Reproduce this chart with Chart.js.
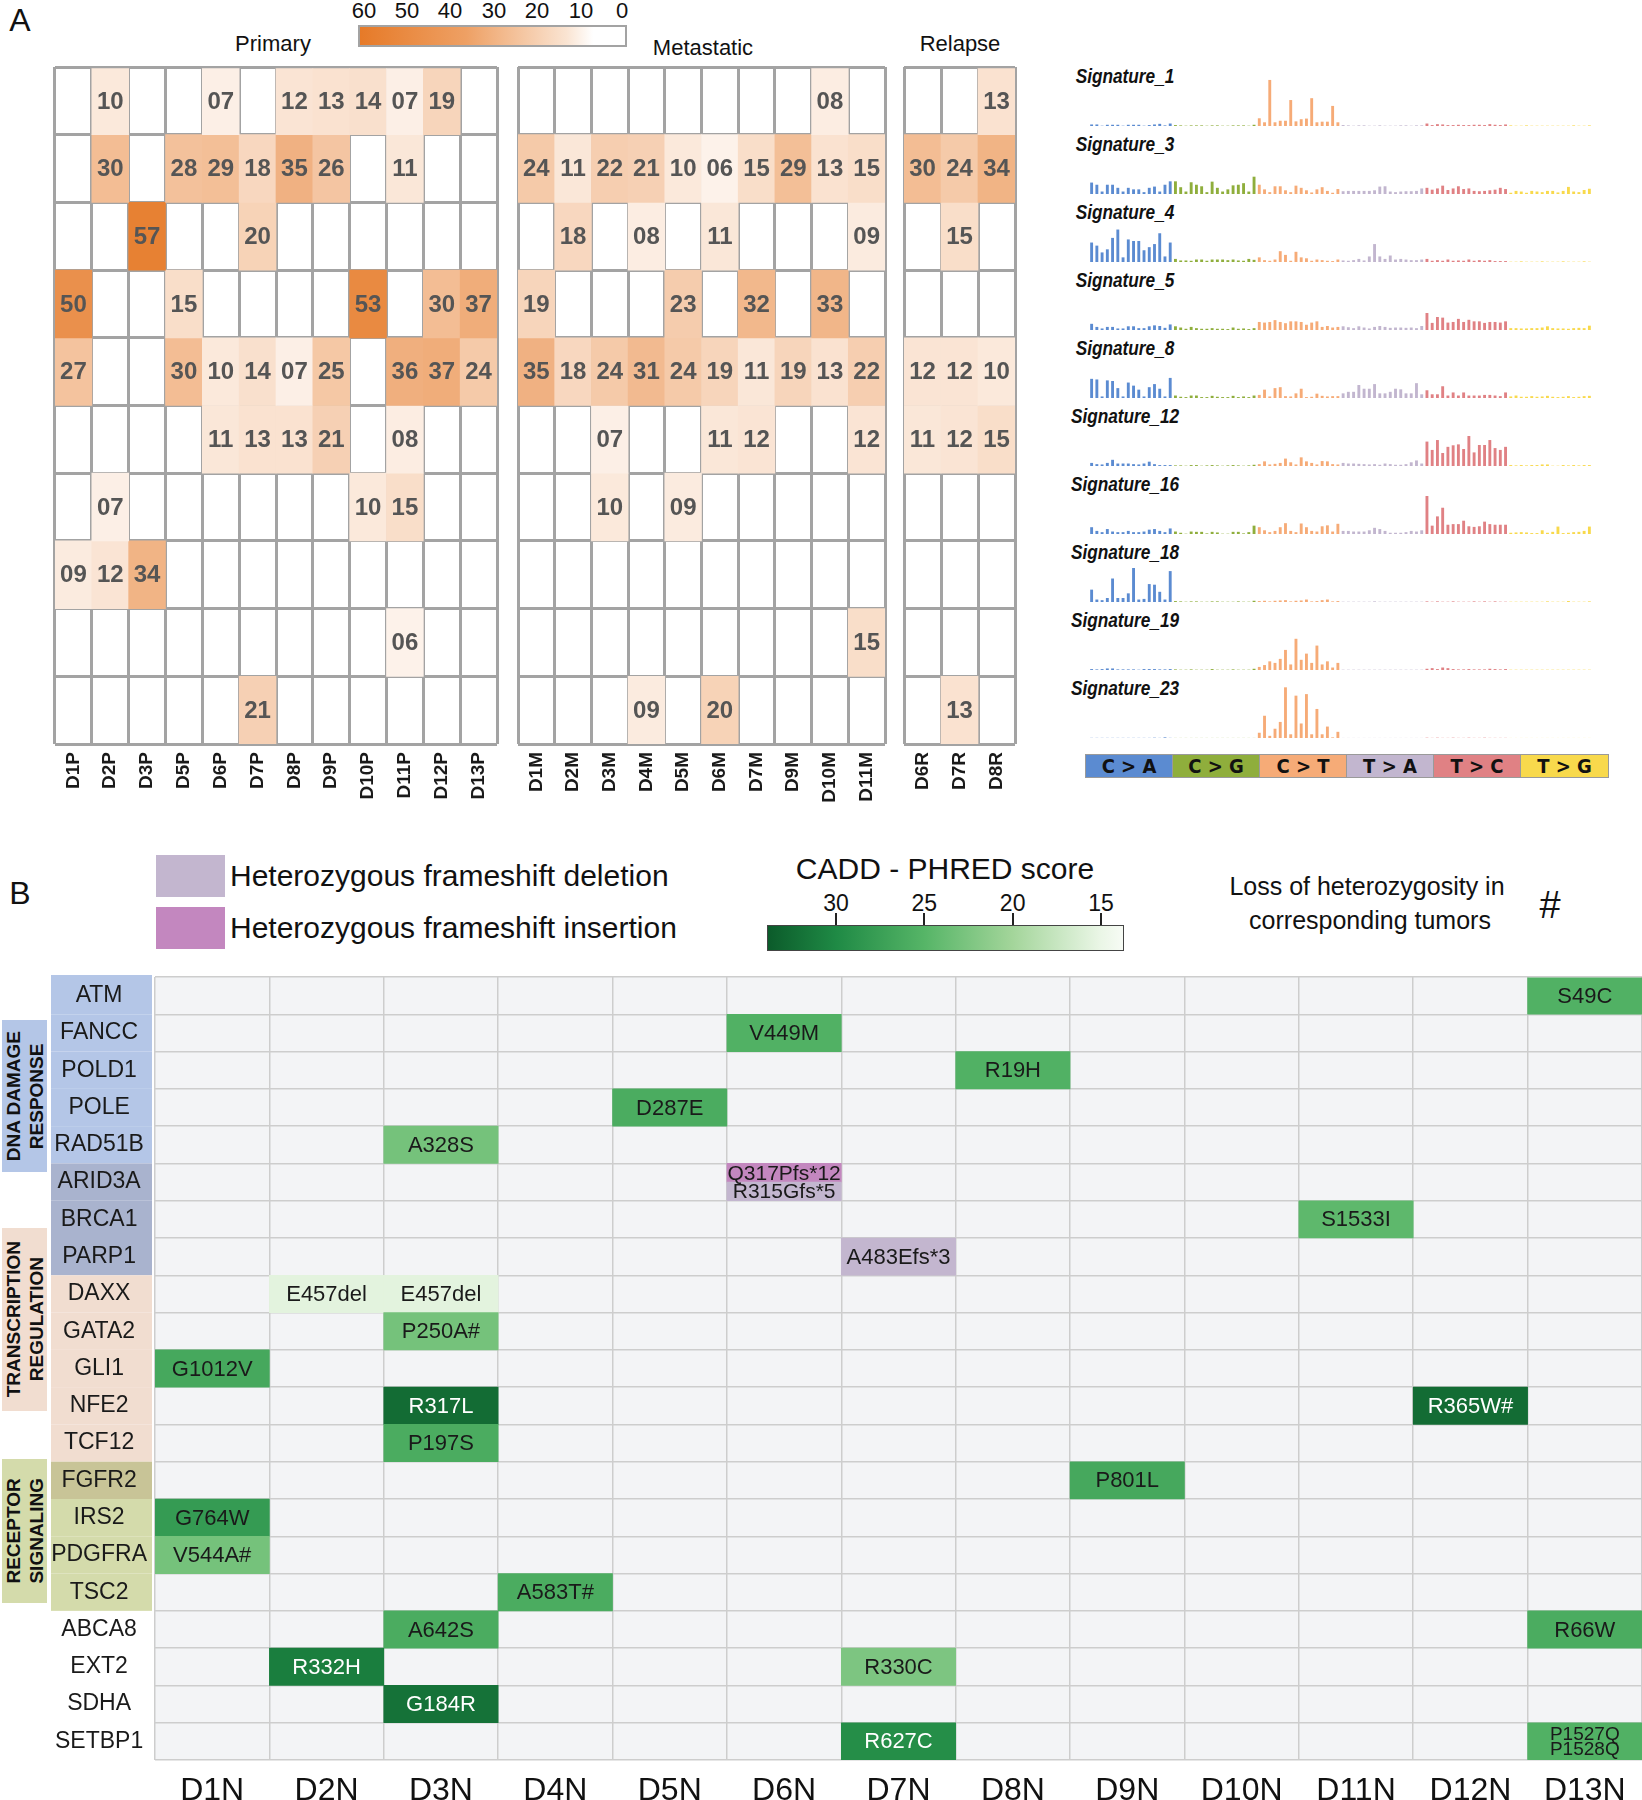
<!DOCTYPE html>
<html>
<head>
<meta charset="utf-8">
<script src="https://cdn.jsdelivr.net/npm/chart.js"></script>
<style>
  body { margin: 0; background: #fff; font-family: 'Liberation Sans', Arial, Helvetica, sans-serif; }
  #page { position: relative; width: 1642px; height: 1800px; overflow: hidden; }
  canvas { position: absolute; }
  .t { position: absolute; white-space: nowrap; color: #111; }
  .c { transform: translate(-50%, -50%); }
  .m { transform: translateY(-50%); }
  .grp { position: absolute; left: 2px; width: 45px; display: flex; align-items: center; justify-content: center; }
  .grp span { writing-mode: vertical-rl; transform: rotate(180deg); font-weight: bold; font-size: 19px; line-height: 23px; text-align: center; color: #111; }
  .cat { position: absolute; top: 754px; height: 24px; box-sizing: border-box; border: 1px solid #9a9a9a; display: flex; align-items: center; justify-content: center;
         font: bold 20px 'Liberation Sans Narrow', 'DejaVu Sans Condensed', Arial, sans-serif; color: #111; white-space: pre; }
</style>
</head>
<body>
<div id="page">
  <!-- panel A headers -->
  <div class="t c" style="left:20px; top:20px; font-size:32px;">A</div>
  <div class="t c" style="left:364px; top:11px; font-size:22px;">60</div>
  <div class="t c" style="left:407px; top:11px; font-size:22px;">50</div>
  <div class="t c" style="left:450px; top:11px; font-size:22px;">40</div>
  <div class="t c" style="left:494px; top:11px; font-size:22px;">30</div>
  <div class="t c" style="left:537px; top:11px; font-size:22px;">20</div>
  <div class="t c" style="left:581px; top:11px; font-size:22px;">10</div>
  <div class="t c" style="left:622px; top:11px; font-size:22px;">0</div>
  <div style="position:absolute; left:358px; top:25px; width:265px; height:18px; border:2px solid #a3a3a3; background:linear-gradient(to right, rgb(230,122,40), rgb(238,160,100) 40%, rgb(250,228,210) 78%, #fff 88%, #fff);"></div>
  <div class="t c" style="left:273px; top:44px; font-size:22px;">Primary</div>
  <div class="t c" style="left:703px; top:48px; font-size:22px;">Metastatic</div>
  <div class="t c" style="left:960px; top:44px; font-size:22px;">Relapse</div>

  <!-- mutation type strip -->
  <div class="cat" style="left:1085px; width:88px; background:#5b8bd1;">C &gt; A</div>
  <div class="cat" style="left:1172px; width:88px; background:#8fae3c;">C &gt; G</div>
  <div class="cat" style="left:1259px; width:88px; background:#f6ab77;">C &gt; T</div>
  <div class="cat" style="left:1346px; width:88px; background:#c2b6cf;">T &gt; A</div>
  <div class="cat" style="left:1433px; width:88px; background:#e08184;">T &gt; C</div>
  <div class="cat" style="left:1520px; width:89px; background:#f8d94c;">T &gt; G</div>

  <!-- panel B legends -->
  <div class="t c" style="left:20px; top:893px; font-size:32px;">B</div>
  <div style="position:absolute; left:156px; top:855px; width:69px; height:42px; background:#c3b6cf;"></div>
  <div style="position:absolute; left:156px; top:907px; width:69px; height:42px; background:#c387bf;"></div>
  <div class="t m" style="left:230px; top:876px; font-size:30px;">Heterozygous frameshift deletion</div>
  <div class="t m" style="left:230px; top:928px; font-size:30px;">Heterozygous frameshift insertion</div>
  <div class="t c" style="left:945px; top:869px; font-size:30px;">CADD - PHRED score</div>
  <div id="caddBar" style="position:absolute; left:767px; top:925px; width:355px; height:24px; border:1px solid #444;"></div>
  <div class="t c" style="left:1367px; top:886px; font-size:25px;">Loss of heterozygosity in</div>
  <div class="t c" style="left:1370px; top:920px; font-size:25px;">corresponding tumors</div>
  <div class="t c" style="left:1550px; top:905px; font-size:38px;">#</div>

  <div class="grp" style="top:1020px; height:152px; background:#b4c6e7;"><span>DNA DAMAGE<br>RESPONSE</span></div>
  <div class="grp" style="top:1228px; height:183px; background:#f1ddd0;"><span>TRANSCRIPTION<br>REGULATION</span></div>
  <div class="grp" style="top:1459px; height:144px; background:#d4dbab;"><span>RECEPTOR<br>SIGNALING</span></div>
</div>

<script>
// ---------- panel A: signature contributions (%) ----------
const primarySamples = ['D1P', 'D2P', 'D3P', 'D5P', 'D6P', 'D7P', 'D8P', 'D9P', 'D10P', 'D11P', 'D12P', 'D13P'];
const metaSamples = ['D1M', 'D2M', 'D3M', 'D4M', 'D5M', 'D6M', 'D7M', 'D9M', 'D10M', 'D11M'];
const relapseSamples = ['D6R', 'D7R', 'D8R'];
const signatures = ['Signature_1', 'Signature_3', 'Signature_4', 'Signature_5', 'Signature_8',
  'Signature_12', 'Signature_16', 'Signature_18', 'Signature_19', 'Signature_23'];

// one row per signature, 0 = not found
const primaryContrib = [
  [0, 10, 0, 0, 7, 0, 12, 13, 14, 7, 19, 0],
  [0, 30, 0, 28, 29, 18, 35, 26, 0, 11, 0, 0],
  [0, 0, 57, 0, 0, 20, 0, 0, 0, 0, 0, 0],
  [50, 0, 0, 15, 0, 0, 0, 0, 53, 0, 30, 37],
  [27, 0, 0, 30, 10, 14, 7, 25, 0, 36, 37, 24],
  [0, 0, 0, 0, 11, 13, 13, 21, 0, 8, 0, 0],
  [0, 7, 0, 0, 0, 0, 0, 0, 10, 15, 0, 0],
  [9, 12, 34, 0, 0, 0, 0, 0, 0, 0, 0, 0],
  [0, 0, 0, 0, 0, 0, 0, 0, 0, 6, 0, 0],
  [0, 0, 0, 0, 0, 21, 0, 0, 0, 0, 0, 0]
];
const metaContrib = [
  [0, 0, 0, 0, 0, 0, 0, 0, 8, 0],
  [24, 11, 22, 21, 10, 6, 15, 29, 13, 15],
  [0, 18, 0, 8, 0, 11, 0, 0, 0, 9],
  [19, 0, 0, 0, 23, 0, 32, 0, 33, 0],
  [35, 18, 24, 31, 24, 19, 11, 19, 13, 22],
  [0, 0, 7, 0, 0, 11, 12, 0, 0, 12],
  [0, 0, 10, 0, 9, 0, 0, 0, 0, 0],
  [0, 0, 0, 0, 0, 0, 0, 0, 0, 0],
  [0, 0, 0, 0, 0, 0, 0, 0, 0, 15],
  [0, 0, 0, 9, 0, 20, 0, 0, 0, 0]
];
const relapseContrib = [
  [0, 0, 13],
  [30, 24, 34],
  [0, 15, 0],
  [0, 0, 0],
  [12, 12, 10],
  [11, 12, 15],
  [0, 0, 0],
  [0, 0, 0],
  [0, 0, 0],
  [0, 13, 0]
];

// ---------- signature spectra (% of mutations, 96 channels) ----------
const mutTypes = ['C>A', 'C>G', 'C>T', 'T>A', 'T>C', 'T>G'];
const mutColors = ['#5b8bd1', '#8fae3c', '#f6ab77', '#c2b6cf', '#e08184', '#f8d94c'];
const flanks = ['A', 'C', 'G', 'T'];

const sig1Spectrum = [
  0.5, 0.5, 0.1, 0.4, 0.4, 0.4, 0.1, 0.4, 0.4, 0.4, 0.1, 0.3, 0.5, 0.7, 0.2, 0.8,
  0.3, 0.2, 0.1, 0.2, 0.2, 0.2, 0.1, 0.2, 0.2, 0.1, 0.1, 0.2, 0.2, 0.2, 0.1, 0.4,
  2.5, 1.2, 14.9, 1.2, 1.7, 1.7, 8.4, 1.5, 2.2, 2.4, 9.0, 1.2, 1.4, 1.4, 6.5, 1.2,
  0.3, 0.2, 0.1, 0.2, 0.2, 0.1, 0.1, 0.2, 0.1, 0.1, 0.1, 0.2, 0.2, 0.1, 0.2, 0.2,
  0.8, 0.3, 0.6, 0.5, 0.3, 0.3, 0.4, 0.3, 0.3, 0.4, 0.4, 0.3, 0.6, 0.4, 0.3, 0.5,
  0.2, 0.1, 0.1, 0.2, 0.1, 0.1, 0.1, 0.1, 0.1, 0.1, 0.1, 0.1, 0.2, 0.1, 0.1, 0.2
];
const sig3Spectrum = [
  3.7, 3.0, 0.8, 3.0, 3.0, 2.0, 0.8, 2.0, 1.5, 1.5, 0.6, 2.0, 2.4, 0.8, 3.0, 4.1,
  4.1, 2.2, 0.8, 3.8, 3.0, 2.5, 0.6, 4.0, 2.0, 0.8, 1.5, 2.8, 3.0, 3.5, 0.8, 5.6,
  3.0, 1.5, 0.6, 2.5, 2.5, 1.2, 0.6, 2.7, 2.0, 1.2, 0.5, 1.5, 2.2, 1.0, 0.4, 1.6,
  0.9, 1.0, 1.0, 1.0, 1.0, 1.0, 1.2, 2.4, 2.5, 0.8, 0.6, 0.8, 0.9, 0.9, 1.0, 1.8,
  2.0, 1.4, 1.8, 2.7, 1.3, 1.8, 2.5, 1.6, 1.8, 1.0, 0.9, 1.0, 1.2, 1.4, 2.0, 1.6,
  0.4, 1.0, 0.8, 0.4, 1.0, 0.8, 0.6, 1.0, 1.0, 0.5, 1.0, 2.3, 0.8, 0.6, 1.3, 1.7
];
const sig4Spectrum = [
  6.3, 5.3, 3.1, 4.1, 7.8, 10.5, 1.5, 7.3, 6.8, 6.8, 3.8, 4.8, 5.8, 9.3, 1.8, 6.3,
  1.0, 0.5, 0.5, 0.4, 0.8, 0.8, 0.4, 0.8, 0.8, 0.8, 0.6, 0.8, 0.5, 0.4, 1.0, 0.7,
  1.5, 0.6, 0.4, 0.8, 3.5, 2.3, 0.4, 3.3, 1.5, 1.2, 0.4, 0.8, 0.6, 0.4, 0.3, 0.8,
  0.5, 0.4, 0.6, 1.0, 0.5, 1.8, 5.8, 1.8, 1.0, 2.1, 0.8, 1.0, 0.8, 0.6, 0.6, 0.8,
  1.0, 0.4, 0.6, 0.4, 0.8, 0.4, 0.5, 0.4, 0.8, 0.4, 0.6, 0.4, 0.6, 0.3, 0.3, 0.3,
  0.1, 0.1, 0.2, 0.1, 0.1, 0.1, 0.2, 0.1, 0.1, 0.1, 0.2, 0.1, 0.1, 0.1, 0.2, 0.1
];
const sig5Spectrum = [
  2.0, 1.0, 0.5, 1.0, 1.0, 0.5, 0.5, 1.2, 1.2, 0.6, 0.6, 1.2, 1.5, 1.3, 0.7, 1.8,
  1.2, 0.8, 0.4, 1.0, 0.6, 0.4, 0.4, 0.6, 0.4, 0.4, 0.3, 0.8, 0.4, 0.5, 0.3, 0.6,
  2.6, 2.4, 2.6, 3.2, 2.6, 2.2, 2.8, 2.8, 2.6, 1.7, 2.4, 2.8, 1.0, 1.3, 0.8, 1.0,
  1.2, 0.9, 0.6, 1.2, 0.8, 0.5, 1.0, 1.3, 1.0, 0.7, 0.8, 0.8, 0.7, 0.8, 0.6, 1.3,
  5.5, 2.3, 4.2, 4.0, 2.4, 2.6, 3.6, 2.6, 3.3, 2.8, 2.8, 2.3, 2.6, 2.6, 2.4, 2.8,
  0.6, 0.6, 0.5, 0.5, 0.6, 0.6, 0.8, 1.2, 0.6, 0.5, 0.5, 0.4, 0.6, 0.7, 0.6, 1.4
];
const sig8Spectrum = [
  6.2, 6.0, 0.5, 5.7, 5.5, 3.2, 0.5, 5.0, 4.0, 2.7, 0.5, 3.5, 4.5, 3.0, 0.5, 6.5,
  0.8, 0.4, 0.3, 0.8, 0.8, 0.3, 0.3, 0.7, 0.4, 0.3, 0.3, 0.7, 0.3, 0.5, 0.3, 0.8,
  1.0, 2.7, 0.5, 3.2, 3.5, 0.6, 0.5, 1.5, 3.0, 0.3, 0.4, 1.4, 0.7, 0.5, 0.6, 0.6,
  1.5, 2.0, 2.0, 4.2, 3.0, 3.0, 4.5, 1.5, 1.5, 2.0, 3.0, 2.8, 1.5, 1.5, 4.8, 1.2,
  2.5, 1.2, 1.2, 3.8, 0.8, 1.8, 0.8, 1.8, 0.8, 0.8, 0.8, 1.0, 1.0, 0.8, 0.6, 1.8,
  0.5, 0.8, 0.4, 0.4, 0.6, 0.4, 0.5, 0.7, 0.4, 0.3, 0.4, 0.6, 0.3, 0.4, 0.6, 0.7
];
const sig12Spectrum = [
  1.0, 0.6, 0.5, 1.0, 2.0, 0.8, 0.8, 0.8, 0.6, 0.5, 0.8, 1.4, 0.6, 0.3, 0.3, 0.3,
  0.2, 0.2, 0.1, 0.3, 0.3, 0.1, 0.2, 0.3, 0.2, 0.1, 0.2, 0.3, 0.2, 0.1, 0.2, 0.4,
  0.6, 1.5, 0.5, 0.7, 1.0, 2.4, 1.2, 0.5, 2.8, 1.5, 1.0, 0.5, 1.6, 1.5, 0.6, 0.5,
  1.0, 0.8, 0.8, 0.7, 0.6, 0.5, 0.6, 0.4, 0.8, 0.6, 0.4, 0.4, 0.6, 1.2, 1.8, 0.8,
  7.9, 5.2, 8.4, 4.2, 6.2, 6.7, 7.0, 5.5, 9.7, 4.4, 6.8, 6.8, 8.4, 5.8, 5.2, 6.2,
  0.3, 0.2, 0.3, 0.2, 0.3, 0.3, 0.5, 0.5, 0.1, 0.1, 0.3, 0.2, 0.3, 0.2, 0.3, 0.3
];
const sig16Spectrum = [
  2.2, 1.0, 0.6, 1.6, 0.8, 0.6, 0.6, 1.0, 0.6, 0.6, 0.8, 1.4, 1.6, 1.0, 0.6, 1.8,
  0.8, 0.4, 0.1, 0.8, 0.7, 0.7, 0.2, 0.7, 0.5, 0.1, 0.1, 0.7, 0.7, 0.2, 0.6, 2.7,
  2.2, 1.2, 0.6, 1.0, 2.2, 3.5, 1.0, 0.6, 3.4, 2.2, 1.0, 0.8, 2.5, 2.8, 0.8, 3.3,
  1.0, 1.0, 0.8, 0.8, 0.8, 1.2, 2.0, 1.6, 1.0, 0.4, 0.4, 0.4, 0.6, 1.0, 0.8, 1.2,
  12.3, 2.7, 5.7, 8.5, 3.0, 3.2, 3.2, 4.3, 2.5, 2.3, 2.5, 4.0, 3.2, 3.0, 3.0, 3.0,
  0.4, 0.5, 0.6, 0.5, 0.3, 0.3, 1.2, 0.4, 0.7, 2.4, 0.3, 0.4, 0.6, 0.7, 1.0, 2.4
];
const sig18Spectrum = [
  4.0, 0.8, 0.6, 1.3, 7.6, 1.3, 1.3, 2.8, 11.0, 0.8, 1.0, 5.8, 5.6, 3.3, 0.8, 10.0,
  0.3, 0.2, 0.1, 0.2, 0.2, 0.1, 0.1, 0.2, 0.2, 0.1, 0.1, 0.1, 0.2, 0.1, 0.1, 0.4,
  0.3, 0.4, 0.2, 0.4, 0.5, 0.6, 0.2, 0.4, 0.5, 0.8, 0.2, 0.3, 0.6, 0.8, 0.2, 0.3,
  0.1, 0.1, 0.1, 0.1, 0.1, 0.1, 0.2, 0.1, 0.1, 0.1, 0.1, 0.1, 0.1, 0.1, 0.1, 0.1,
  0.2, 0.1, 0.2, 0.1, 0.1, 0.2, 0.1, 0.1, 0.1, 0.2, 0.1, 0.2, 0.1, 0.2, 0.1, 0.1,
  0.1, 0.1, 0.1, 0.1, 0.1, 0.1, 0.1, 0.2, 0.1, 0.1, 0.1, 0.3, 0.1, 0.1, 0.1, 0.2
];
const sig19Spectrum = [
  0.3, 0.2, 0.3, 0.5, 0.5, 0.2, 0.2, 0.2, 0.2, 0.1, 0.3, 0.3, 0.3, 0.2, 0.2, 0.3,
  0.2, 0.1, 0.1, 0.2, 0.1, 0.1, 0.1, 0.3, 0.1, 0.1, 0.1, 0.2, 0.1, 0.1, 0.1, 0.4,
  1.0, 1.6, 2.8, 2.3, 3.6, 6.5, 1.8, 10.1, 3.3, 5.3, 2.3, 7.9, 1.8, 2.8, 0.8, 2.3,
  0.1, 0.1, 0.1, 0.1, 0.1, 0.1, 0.1, 0.1, 0.1, 0.1, 0.1, 0.1, 0.1, 0.1, 0.1, 0.1,
  0.4, 0.6, 0.3, 0.8, 0.6, 0.3, 0.2, 0.2, 0.3, 0.2, 0.2, 0.2, 0.4, 0.3, 0.2, 0.3,
  0.1, 0.1, 0.1, 0.1, 0.1, 0.1, 0.1, 0.1, 0.1, 0.1, 0.1, 0.1, 0.1, 0.1, 0.1, 0.1
];
const sig23Spectrum = [
  0.05, 0.05, 0.05, 0.05, 0.05, 0.05, 0.05, 0.05, 0.05, 0.05, 0.05, 0.05, 0.1, 0.05, 0.2, 0.05,
  0.03, 0.03, 0.03, 0.03, 0.03, 0.03, 0.03, 0.03, 0.03, 0.03, 0.03, 0.03, 0.03, 0.03, 0.03, 0.03,
  1.7, 7.2, 0.7, 3.0, 5.2, 16.4, 1.2, 13.7, 4.7, 14.2, 1.2, 9.4, 1.2, 3.7, 0.2, 2.0,
  0.03, 0.03, 0.03, 0.03, 0.03, 0.03, 0.03, 0.03, 0.03, 0.03, 0.03, 0.03, 0.03, 0.03, 0.03, 0.03,
  0.1, 0.05, 0.1, 0.05, 0.05, 0.1, 0.05, 0.05, 0.1, 0.05, 0.05, 0.1, 0.05, 0.05, 0.05, 0.05,
  0.02, 0.02, 0.02, 0.02, 0.02, 0.02, 0.02, 0.02, 0.02, 0.02, 0.02, 0.02, 0.02, 0.02, 0.02, 0.02
];
const spectra = [sig1Spectrum, sig3Spectrum, sig4Spectrum, sig5Spectrum, sig8Spectrum,
  sig12Spectrum, sig16Spectrum, sig18Spectrum, sig19Spectrum, sig23Spectrum];

// ---------- panel B: germline variants ----------
const donors = ['D1N', 'D2N', 'D3N', 'D4N', 'D5N', 'D6N', 'D7N', 'D8N', 'D9N', 'D10N', 'D11N', 'D12N', 'D13N'];
const genes = ['ATM', 'FANCC', 'POLD1', 'POLE', 'RAD51B', 'ARID3A', 'BRCA1', 'PARP1', 'DAXX', 'GATA2', 'GLI1',
  'NFE2', 'TCF12', 'FGFR2', 'IRS2', 'PDGFRA', 'TSC2', 'ABCA8', 'EXT2', 'SDHA', 'SETBP1'];
const geneGroup = ['dna', 'dna', 'dna', 'dna', 'dna', 'dnatr', 'dnatr', 'dnatr', 'tr', 'tr', 'tr',
  'tr', 'tr', 'trrs', 'rs', 'rs', 'rs', '', '', '', ''];

const mutGene = ['ATM', 'FANCC', 'POLD1', 'POLE', 'RAD51B', 'BRCA1', 'DAXX', 'DAXX', 'GATA2', 'GLI1', 'NFE2', 'NFE2',
  'TCF12', 'FGFR2', 'IRS2', 'PDGFRA', 'TSC2', 'ABCA8', 'ABCA8', 'EXT2', 'EXT2', 'SDHA', 'SETBP1', 'SETBP1'];
const mutDonor = ['D13N', 'D6N', 'D8N', 'D5N', 'D3N', 'D11N', 'D2N', 'D3N', 'D3N', 'D1N', 'D3N', 'D12N',
  'D3N', 'D9N', 'D1N', 'D1N', 'D4N', 'D3N', 'D13N', 'D2N', 'D7N', 'D3N', 'D7N', 'D13N'];
const mutLabel = ['S49C', 'V449M', 'R19H', 'D287E', 'A328S', 'S1533I', 'E457del', 'E457del', 'P250A#', 'G1012V', 'R317L', 'R365W#',
  'P197S', 'P801L', 'G764W', 'V544A#', 'A583T#', 'A642S', 'R66W', 'R332H', 'R330C', 'G184R', 'R627C', 'P1527Q\nP1528Q'];
const caddScore = [25.5, 25.5, 25.5, 26, 23, 24.5, 15.5, 15.5, 23, 26.5, 32.5, 32.5,
  26, 26.5, 28, 23, 26, 26, 26, 31, 22.5, 32, 29.5, 25.5];

const fsGene = ['ARID3A', 'ARID3A', 'PARP1'];
const fsDonor = ['D6N', 'D6N', 'D7N'];
const fsLabel = ['Q317Pfs*12', 'R315Gfs*5', 'A483Efs*3'];
const fsType = ['ins', 'del', 'del'];

// ---------- helpers ----------
Chart.defaults.font.family = "'Liberation Sans', Arial, Helvetica, sans-serif";
Chart.defaults.animation = false;
Chart.defaults.responsive = false;
Chart.defaults.plugins.legend.display = false;
Chart.defaults.plugins.tooltip.enabled = false;

const page = document.getElementById('page');
function addCanvas(left, top, w, h) {
  const c = document.createElement('canvas');
  c.width = w; c.height = h;
  c.style.left = left + 'px'; c.style.top = top + 'px';
  page.appendChild(c);
  return c;
}
function addText(txt, left, top, css) {
  const d = document.createElement('div');
  d.className = 't';
  d.textContent = txt;
  d.style.left = left + 'px'; d.style.top = top + 'px';
  d.style.cssText += css;
  page.appendChild(d);
}

function heatColor(v) {
  const t = Math.min(v / 60, 1);
  return 'rgb(' + Math.round(255 - 25 * t) + ',' + Math.round(255 - 133 * t) + ',' + Math.round(255 - 215 * t) + ')';
}

const caddStops = [[34, [11, 90, 42]], [30, [31, 138, 69]], [25, [86, 181, 103]], [20, [163, 213, 154]], [15, [234, 246, 230]], [13.7, [247, 251, 245]]];
function caddColor(s) {
  for (let i = 1; i < caddStops.length; i++) {
    const [s0, c0] = caddStops[i - 1], [s1, c1] = caddStops[i];
    if (s >= s1 || i === caddStops.length - 1) {
      const t = Math.max(0, Math.min(1, (s0 - s) / (s0 - s1)));
      return 'rgb(' + c0.map((c, k) => Math.round(c + (c1[k] - c) * t)).join(',') + ')';
    }
  }
}
const fsColors = { ins: '#c387bf', del: '#c3b6cf' };
const groupFill = { dna: '#b4c6e7', dnatr: '#a9b3ce', tr: '#f1ddd0', trrs: '#c8c497', rs: '#d4dbab' };

// ---------- panel A heatmaps ----------
const cellNumbers = {
  id: 'cellNumbers',
  afterDraw(chart) {
    const ctx = chart.ctx;
    ctx.save();
    ctx.font = "bold 24px 'Liberation Sans', Arial, sans-serif";
    ctx.fillStyle = '#555';
    ctx.textAlign = 'center';
    ctx.textBaseline = 'middle';
    chart.data.datasets.forEach((ds, i) => {
      chart.getDatasetMeta(i).data.forEach((bar, j) => {
        ctx.fillText(String(ds.data[j].v).padStart(2, '0'), bar.x, (bar.y + bar.base) / 2 + 1);
      });
    });
    ctx.restore();
  }
};

function heatmap(canvas, samples, matrix) {
  const datasets = matrix.map((row, r) => ({
    data: row.map((v, c) => ({ x: samples[c], y: [r, r + 1], v: v })).filter(d => d.v > 0),
    backgroundColor: ctx => ctx.raw ? heatColor(ctx.raw.v) : '#fff',
    grouped: false, barPercentage: 1, categoryPercentage: 1, borderWidth: 0
  }));
  return new Chart(canvas, {
    type: 'bar',
    data: { labels: samples, datasets: datasets },
    options: {
      layout: { padding: { left: 5, right: 5, top: 7, bottom: 0 } },
      scales: {
        x: {
          offset: true, z: 1,
          grid: { offset: true, color: '#a3a3a3', lineWidth: 3, drawTicks: false },
          border: { display: false },
          ticks: { autoSkip: false, minRotation: 90, maxRotation: 90, padding: 8, color: '#1a1a1a', font: { size: 19, weight: 'bold' } },
          afterFit: s => { s.height = 76; s.paddingLeft = 0; s.paddingRight = 0; }
        },
        y: {
          min: 0, max: 10, reverse: true, z: 1,
          ticks: { display: false, stepSize: 1 },
          grid: { color: '#a3a3a3', lineWidth: 3, drawTicks: false },
          border: { display: false },
          afterFit: s => { s.width = 0; s.paddingTop = 0; s.paddingBottom = 0; }
        }
      }
    },
    plugins: [cellNumbers]
  });
}

heatmap(addCanvas(50, 60, 452, 760), primarySamples, primaryContrib);
heatmap(addCanvas(513, 60, 377, 760), metaSamples, metaContrib);
heatmap(addCanvas(899, 60, 121, 760), relapseSamples, relapseContrib);

// ---------- signature spectra ----------
const channels = [];
const channelColors = [];
mutTypes.forEach((mt, k) => {
  flanks.forEach(a => flanks.forEach(b => {
    channels.push(a + '[' + mt + ']' + b);
    channelColors.push(mutColors[k]);
  }));
});

spectra.forEach((vals, i) => {
  const base = 126 + 68 * i;
  addText(signatures[i], 1125, base - 50,
    'font-size:21px; font-weight:bold; font-style:italic; transform:translate(-50%,-50%) scaleX(0.82);');
  new Chart(addCanvas(1085, base - 53, 511, 53), {
    type: 'bar',
    data: { labels: channels, datasets: [{ data: vals, backgroundColor: channelColors, barPercentage: 0.55, categoryPercentage: 1, borderWidth: 0 }] },
    options: {
      layout: { padding: { left: 4, right: 4, top: 2, bottom: 0 } },
      scales: { x: { display: false }, y: { display: false, min: 0, max: 16.5 } }
    }
  });
});

// ---------- panel B ----------
const caddMax = 33.9, caddMin = 13.7;
(function caddLegend() {
  const bar = document.getElementById('caddBar');
  const stops = caddStops.map(([s, c]) => 'rgb(' + c.join(',') + ') ' + ((caddMax - s) / (caddMax - caddMin) * 100).toFixed(1) + '%');
  bar.style.background = 'linear-gradient(to right, ' + stops.join(', ') + ')';
  [30, 25, 20, 15].forEach(s => {
    const x = 767 + 357 * (caddMax - s) / (caddMax - caddMin);
    const tick = document.createElement('div');
    tick.style.cssText = 'position:absolute; width:2px; height:12px; background:#222; top:913px; left:' + (x - 1) + 'px;';
    page.appendChild(tick);
    addText(String(s), x, 903, 'font-size:23px; transform:translate(-50%,-50%);');
  });
})();

const missenseCells = mutGene.map((g, i) => {
  const r = genes.indexOf(g);
  return { x: mutDonor[i], y: [r, r + 1], label: mutLabel[i], score: caddScore[i] };
});
const frameshiftCells = fsGene.map((g, i) => {
  const r = genes.indexOf(g);
  const same = fsGene.map((gg, k) => k).filter(k => fsGene[k] === g && fsDonor[k] === fsDonor[i]);
  const part = same.indexOf(i), n = same.length;
  return { x: fsDonor[i], y: [r + part / n, r + (part + 1) / n], label: fsLabel[i], type: fsType[i], half: n > 1 };
});

const geneDecor = {
  id: 'geneDecor',
  beforeDraw(chart) {
    const { ctx, chartArea } = chart;
    const y = chart.scales.y;
    ctx.save();
    ctx.fillStyle = '#f3f4f6';
    ctx.fillRect(chartArea.left, chartArea.top, chartArea.right - chartArea.left, chartArea.bottom - chartArea.top);
    genes.forEach((g, i) => {
      const fill = groupFill[geneGroup[i]];
      if (!fill) return;
      const top = y.getPixelForValue(i) - (i === 0 ? 2 : 0);
      const bottom = y.getPixelForValue(i + 1);
      ctx.fillStyle = fill;
      ctx.fillRect(51, top, 101, bottom - top);
    });
    ctx.restore();
  },
  afterDatasetsDraw(chart) {
    const ctx = chart.ctx;
    ctx.save();
    ctx.textAlign = 'center';
    ctx.textBaseline = 'middle';
    chart.data.datasets.forEach((ds, i) => {
      chart.getDatasetMeta(i).data.forEach((bar, j) => {
        const d = ds.data[j];
        const lines = d.label.split('\n');
        const size = d.half ? 21 : (lines.length > 1 ? 19 : 22);
        const gap = d.half ? 0 : 15;
        ctx.font = size + "px 'Liberation Sans', Arial, sans-serif";
        ctx.fillStyle = d.score >= 29 ? '#fff' : '#1a1a1a';
        const cy = (bar.y + bar.base) / 2 + 1;
        lines.forEach((ln, k) => ctx.fillText(ln, bar.x, cy + (k - (lines.length - 1) / 2) * gap));
      });
    });
    ctx.restore();
  }
};

new Chart(addCanvas(0, 960, 1642, 850), {
  type: 'bar',
  data: {
    labels: donors,
    datasets: [
      { data: missenseCells, backgroundColor: ctx => ctx.raw ? caddColor(ctx.raw.score) : '#000' },
      { data: frameshiftCells, backgroundColor: ctx => ctx.raw ? fsColors[ctx.raw.type] : '#000' }
    ]
  },
  options: {
    datasets: { bar: { grouped: false, barPercentage: 1, categoryPercentage: 1, borderWidth: 0 } },
    layout: { padding: { left: 53, right: 0, top: 17, bottom: 0 } },
    scales: {
      x: {
        offset: true,
        grid: { offset: true, color: '#cdcdcd', lineWidth: 1.5, drawTicks: false },
        border: { display: false },
        ticks: { padding: 12, color: '#111', font: { size: 32 } },
        afterFit: s => { s.height = 50; s.paddingLeft = 0; s.paddingRight = 0; }
      },
      y: {
        min: 0, max: genes.length, reverse: true,
        ticks: { display: false, stepSize: 1 },
        grid: { color: '#cdcdcd', lineWidth: 1.5, drawTicks: false },
        border: { display: false },
        afterFit: s => { s.width = 0; s.paddingTop = 0; s.paddingBottom = 0; }
      },
      g: {
        type: 'category', axis: 'y', position: 'left', labels: genes, offset: true,
        grid: { display: false, drawTicks: false },
        border: { display: false },
        ticks: { autoSkip: false, crossAlign: 'center', padding: 8, color: '#1a1a1a', font: { size: 23 } },
        afterFit: s => { s.width = 102; s.paddingTop = 0; s.paddingBottom = 0; }
      }
    }
  },
  plugins: [geneDecor]
});
</script>
</body>
</html>
